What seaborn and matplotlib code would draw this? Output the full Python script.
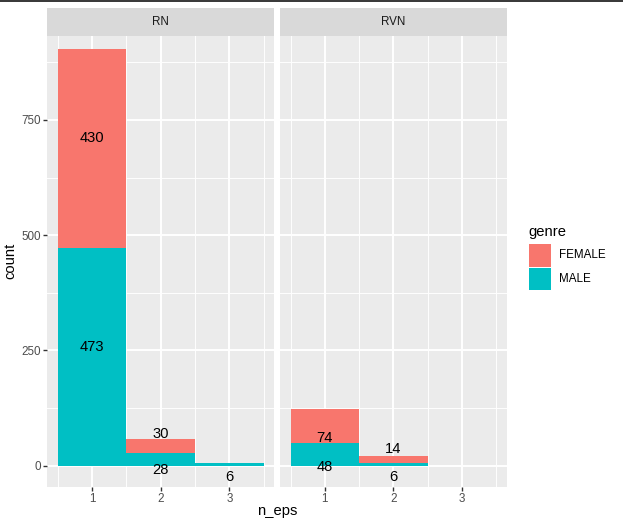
import matplotlib
matplotlib.use("Agg")
import matplotlib.pyplot as plt
import seaborn as sns
import pandas as pd
from matplotlib.patches import Rectangle
from matplotlib.lines import Line2D

# datos
n_eps = [1, 2, 3]
rn_male = [473, 28, 6]
rn_female = [430, 30, 0]
rvn_male = [48, 6, 0]
rvn_female = [74, 14, 0]
genres = ["FEMALE", "MALE"]
colores = {"FEMALE": "#F8766D", "MALE": "#00BFC4"}

rows = []
for panel, male, female in [("RN", rn_male, rn_female), ("RVN", rvn_male, rvn_female)]:
    for x, m, f in zip(n_eps, male, female):
        if m > 0:
            rows.append({"panel": panel, "n_eps": x, "genre": "MALE", "count": m})
        if f > 0:
            rows.append({"panel": panel, "n_eps": x, "genre": "FEMALE", "count": f})
df = pd.DataFrame(rows)

# posiciones de las etiquetas (y) estimadas del grafico
etiquetas = {
    "RN": [(1, 258, 473), (1, 710, 430), (2, -10, 28), (2, 68, 30), (3, -24, 6)],
    "RVN": [(1, -2, 48), (1, 59, 74), (2, -24, 6), (2, 37, 14)],
}

plt.rcParams["font.family"] = ["Liberation Sans", "DejaVu Sans"]
W, H = 623, 527
fig = plt.figure(figsize=(W / 100, H / 100), dpi=100)


def caja(x0, y0, x1, y1):
    return [x0 / W, 1 - y1 / H, (x1 - x0) / W, (y1 - y0) / H]


paneles = [("RN", 47.3, 274.0), ("RVN", 280.3, 506.5)]
top, bottom = 35.8, 486.7
for i, (nombre, x0, x1) in enumerate(paneles):
    ax = fig.add_axes(caja(x0, top, x1, bottom))
    sub = df[df["panel"] == nombre]
    sns.histplot(data=sub, x="n_eps", weights="count", hue="genre", hue_order=genres,
                 multiple="stack", discrete=True, palette=colores, linewidth=0,
                 alpha=1, legend=False, ax=ax, zorder=3)
    ax.set_facecolor("#EBEBEB")
    ax.set_xlim(0.35, 3.65)
    ax.set_ylim(-45.8, 932.7)
    ax.set_xticks([1, 2, 3])
    ax.set_xticks([0.5, 1.5, 2.5, 3.5], minor=True)
    ax.set_yticks([0, 250, 500, 750])
    ax.set_yticks([125, 375, 625, 875], minor=True)
    ax.grid(which="major", color="white", linewidth=1.37, zorder=0)
    ax.grid(which="minor", color="white", linewidth=0.68, zorder=0)
    ax.set_axisbelow(True)
    for s in ax.spines.values():
        s.set_visible(False)
    ax.tick_params(which="major", length=2.64, width=1.0, color="#333333",
                   labelcolor="#4D4D4D", labelsize=8.4, pad=2)
    ax.tick_params(which="minor", length=0)
    ax.set_xlabel("")
    ax.set_ylabel("")
    if i > 0:
        ax.tick_params(axis="y", left=False, labelleft=False)
    for x, y, lab in etiquetas[nombre]:
        ax.text(x, y, str(lab), ha="center", va="center", fontsize=10.6,
                color="black", zorder=5)
    # strip
    st = fig.add_axes(caja(x0, 8.0, x1, top))
    st.set_facecolor("#D9D9D9")
    st.set_xticks([])
    st.set_yticks([])
    for s in st.spines.values():
        s.set_visible(False)
    st.text(0.5, 0.5, nombre, ha="center", va="center", fontsize=8.4,
            color="#1A1A1A", transform=st.transAxes)

fig.text(10 / W, 1 - 261 / H, "count", rotation=90, ha="center", va="center",
         fontsize=10.6)
fig.text(277 / W, 1 - 511 / H, "n_eps", ha="center", va="center", fontsize=10.6)

# leyenda
fig.text(528 / W, 1 - 232 / H, "genre", ha="left", va="center", fontsize=10.6)
for nombre, y0, y1 in [("FEMALE", 244.3, 266.7), ("MALE", 267.7, 290.0)]:
    fig.add_artist(Rectangle((529 / W, 1 - y1 / H), 22 / W, (y1 - y0) / H,
                             facecolor=colores[nombre], edgecolor="none",
                             transform=fig.transFigure))
    fig.text(559 / W, 1 - (y0 + y1) / 2 / H, nombre, ha="left", va="center",
             fontsize=8.4)

fig.add_artist(Line2D([0, 1], [1 - 0.8 / H, 1 - 0.8 / H], color="black",
                      linewidth=1.1, transform=fig.transFigure))

fig.savefig("out.png", dpi=100, facecolor="white")
